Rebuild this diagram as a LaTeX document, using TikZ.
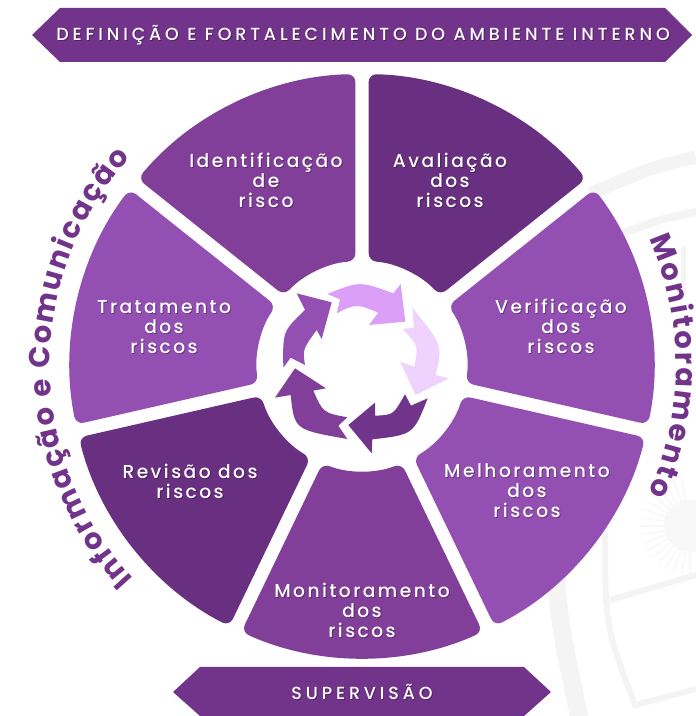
\documentclass[tikz,border=0pt]{standalone}
\usepackage{fontspec}
\usetikzlibrary{decorations.text,calc}
\setmainfont{Poppins}
\newfontfamily\lblfont[LetterSpace=13]{Poppins Medium}
\newfontfamily\banfont[LetterSpace=22]{Poppins Medium}
\newfontfamily\arcfont{Poppins}
\definecolor{pMid}{HTML}{823F9A}
\definecolor{pDark}{HTML}{692F80}
\definecolor{pLite}{HTML}{9350B2}
\definecolor{pBan}{HTML}{72348A}
\definecolor{pA}{HTML}{DB9FF7}
\definecolor{pB}{HTML}{F0D2FF}
\definecolor{pC}{HTML}{70358A}
\definecolor{wm}{HTML}{F4F4F4}
\definecolor{wmsun}{HTML}{F8F8F8}
\tikzset{
  wedgefill/.style={fill=#1,rounded corners=8pt},
  lbl/.style={text=white,align=center,font=\lblfont\fontsize{18.7pt}{20pt}\selectfont,inner sep=0pt},
  lblsh/.style={text=black,opacity=.3,align=center,font=\lblfont\fontsize{18.7pt}{20pt}\selectfont,inner sep=0pt},
  ban/.style={text=white,font=\banfont\fontsize{17.5pt}{20pt}\selectfont,inner sep=0pt},
  bansh/.style={text=black,opacity=.3,font=\banfont\fontsize{17.5pt}{20pt}\selectfont,inner sep=0pt},
  wmline/.style={draw=wm,line width=#1},
  wmray/.style={draw=wmsun,line width=#1},
}
% #1 start angle (sector) #2 end angle (sector, clockwise) #3 colour
\newcommand{\wedgeshape}[3]{%
  \fill[wedgefill=#3]
    ($(c)+(#1-1.3:292pt)$) arc[start angle=#1-1.3,end angle=#2+1.3,radius=292pt]
    -- ($(c)+(#2+3.6:105pt)$) arc[start angle=#2+3.6,end angle=#1-3.6,radius=105pt]
    -- cycle;}
\begin{document}
\begin{tikzpicture}[x=1pt,y=1pt]
\useasboundingbox (0,0) rectangle (696,716);
\fill[white] (0,0) rectangle (696,716);
\coordinate (c) at (362,350);
% watermark
\begin{scope}
\clip (0,0) rectangle (696,716);
\draw[wmline=13pt] (696,559) .. controls (650,548) .. (590,522);
\draw[wmline=8pt] (696,504) .. controls (665,498) .. (620,482);
\draw[wmline=18pt] (556,190) .. controls (556,110) .. (580,-5);
\draw[wmline=6pt] (605,190) .. controls (605,90) .. (635,11) -- (696,27);
\draw[wmline=6pt] (610,116) -- (696,141);
\draw[wmline=5pt] (683,469) -- (683,420);
\fill[wmsun] (690,190) circle[radius=26pt];
\foreach \a in {100,110,...,270}
  \draw[wmray=1.5pt] (690,190) -- +(\a:50pt);
\end{scope}
% wedges
\wedgeshape{90}{38.57}{pDark}
\wedgeshape{38.57}{-12.86}{pLite}
\wedgeshape{-12.86}{-64.29}{pLite}
\wedgeshape{-64.29}{-115.71}{pMid}
\wedgeshape{-115.71}{-167.14}{pDark}
\wedgeshape{-167.14}{-218.57}{pLite}
\wedgeshape{-218.57}{-270}{pMid}
% banners
\fill[pBan] (32,681) -- (60,708) -- (665,708) -- (692,681) -- (665,654) -- (60,654) -- cycle;
\fill[pBan] (173,24) -- (200,49) -- (524,49) -- (551,24) -- (524,0) -- (200,0) -- cycle;
\node[bansh] at (364,680) {DEFINIÇÃO E FORTALECIMENTO DO AMBIENTE INTERNO};
\node[ban] (top) at (363,681) {DEFINIÇÃO E FORTALECIMENTO DO AMBIENTE INTERNO};
\node[bansh] at (363,23) {SUPERVISÃO};
\node[ban] (sup) at (362,24) {SUPERVISÃO};
% labels
\newcommand{\lab}[4]{\node[lblsh] at (#2+1,#3-1) {#4};\node[lbl] (#1) at (#2,#3) {#4};}
\lab{a}{266}{536}{Identificação\\de\\risco}
\lab{b}{450}{536}{Avaliação\\dos\\riscos}
\lab{d}{561}{390}{Verificação\\dos\\riscos}
\lab{e}{527}{225}{Melhoramento\\dos\\riscos}
\lab{f}{362}{106}{Monitoramento\\dos\\riscos}
\lab{g}{190}{235}{Revisão dos\\riscos}
\lab{h}{164}{389}{Tratamento\\dos\\riscos}
% curved text
\path[decoration={text along path,text align={fit to path},
   text={|\arcfont\bfseries\fontsize{29pt}{29pt}\selectfont\color{pBan}|Informação e Comunicação}},decorate]
   ($(c)+(223:312pt)$) arc[start angle=223,end angle=138,radius=312pt];
\path[decoration={text along path,text align={fit to path},
   text={|\arcfont\bfseries\fontsize{29pt}{29pt}\selectfont\color{pBan}|Monitoramento}},decorate]
   ($(c)+(24:314pt)$) arc[start angle=24,end angle=-24,radius=314pt];
% cycle arrows (zoom coordinates)
\begin{scope}[shift={(250,456)},x=0.33333pt,y=-0.33333pt]
\fill[pA] (232,102) .. controls (329,63) .. (430,100) -- (452,72) -- (466,185) -- (357,195) -- (385,158) .. controls (318,131) .. (260,160) -- (270,118) -- cycle;
\fill[pB] (487,143) .. controls (578,256) .. (557,345) -- (597,355) -- (497,405) -- (450,305) -- (493,320) .. controls (505,257) .. (458,207) -- (492,203) -- cycle;
\fill[pC] (533,415) .. controls (490,524) .. (367,538) -- (365,580) -- (295,495) -- (375,428) -- (375,467) .. controls (430,465) .. (465,403) -- (483,437) -- cycle;
\fill[pMid] (292,537) .. controls (133,509) .. (122,405) -- (75,413) -- (135,325) -- (228,385) -- (190,392) .. controls (219,458) .. (292,472) -- (265,497) -- cycle;
\fill[pLite] (100,323) .. controls (98,214) .. (165,150) -- (140,100) -- (245,127) -- (215,237) -- (200,210) .. controls (158,268) .. (165,315) -- (122,293) -- cycle;
\end{scope}
\end{tikzpicture}
\end{document}
